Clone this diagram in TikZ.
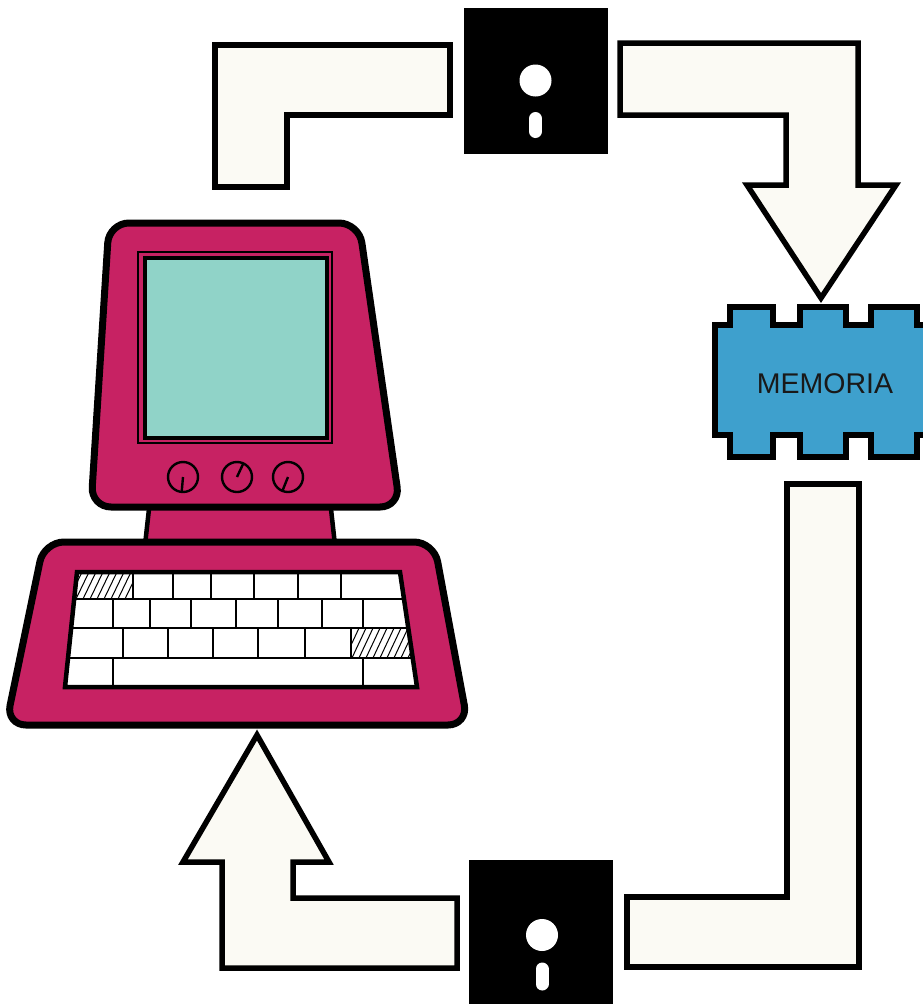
\documentclass[tikz,border=0pt]{standalone}
\usepackage{fontspec}
\setmainfont{Liberation Sans}
\definecolor{casing}{RGB}{199,34,99}
\definecolor{screen}{RGB}{144,211,200}
\definecolor{chip}{RGB}{62,160,205}
\definecolor{paper}{RGB}{251,250,244}
\begin{document}
\begin{tikzpicture}[x=1pt,y=-1pt,
  flowarrow/.style={draw=black,line width=5.5pt,fill=paper,line join=miter},
  floppy/.style={fill=black,inner sep=0pt,minimum width=144pt,minimum height=146pt},
  hole/.style={fill=white},
  body/.style={draw=black,line width=7pt,fill=casing,rounded corners=20pt},
  keyline/.style={draw=black,line width=1.6pt},
  hatch/.style={draw=black,line width=1pt},
  knob/.style={draw=black,line width=2.4pt}]
\useasboundingbox[fill=white] (0,0) rectangle (923,1004);

% ---------- flow arrows ----------
\draw[flowarrow] (215,45) -- (450,45) -- (450,115) -- (287,115) -- (287,187) -- (215,187) -- cycle;
\draw[flowarrow] (620,43) -- (858,43) -- (858,185) -- (896,185) -- (821,298) -- (747,185)
  -- (786,185) -- (786,115) -- (620,115) -- cycle;
\draw[flowarrow] (787,484) -- (859,484) -- (859,967) -- (627,967) -- (627,897) -- (787,897) -- cycle;
\draw[flowarrow] (257,735) -- (329,862) -- (293,862) -- (293,898) -- (457,898) -- (457,968)
  -- (222,968) -- (222,862) -- (183,862) -- cycle;

% ---------- floppy disks ----------
\node[floppy] (disktop) at (535.5,80.5) {};
\fill[hole] (disktop.center) circle[radius=16pt];
\draw[white,line width=13pt,line cap=round] ([yshift=-38pt]disktop.center) -- ([yshift=-51pt]disktop.center);

\node[floppy] (diskbottom) at (540.5,933) {};
\fill[hole] ([xshift=1.5pt,yshift=-2pt]diskbottom.center) circle[radius=16pt];
\draw[white,line width=13pt,line cap=round] ([xshift=1.5pt,yshift=-36pt]diskbottom.center) -- ([xshift=1.5pt,yshift=-51pt]diskbottom.center);

% ---------- memory chip ----------
\draw[draw=black,line width=5.5pt,fill=chip,line join=miter]
  (715,325) -- (730,325) -- (730,307) -- (773,307) -- (773,325) -- (800,325) -- (800,307)
  -- (846,307) -- (846,325) -- (871,325) -- (871,307) -- (917,307) -- (917,325) -- (930,325)
  -- (930,435) -- (917,435) -- (917,457) -- (871,457) -- (871,435) -- (846,435) -- (846,457)
  -- (800,457) -- (800,435) -- (773,435) -- (773,457) -- (730,457) -- (730,435) -- (715,435) -- cycle;
\node[font=\fontsize{28.5}{28.5}\selectfont,text=black!90] (memtext) at (825,384) {MEMORIA};

% ---------- computer ----------
% neck
\fill[casing] (150,495) -- (330,495) -- (335,545) -- (145,545) -- cycle;
\draw[line width=4.5pt] (150,500) -- (145,545) (330,500) -- (335,545);
% monitor
\path[body] (109,223) -- (359,223) -- (400,507) -- (91,507) -- cycle;
\draw[line width=1.2pt] (138,252) rectangle (332,443);
\draw[line width=4.5pt,fill=screen] (145,258) rectangle (327,438);
% knobs
\foreach \kx/\ka in {183/-95,237/65,288/-112}{
  \draw[knob] (\kx,477) circle[radius=15pt];
  \draw[knob] (\kx,477) -- ++(\ka:14pt);
}
% keyboard base
\path[body] (44,542) -- (434,542) -- (468,725) -- (6,725) -- cycle;
% keys
\begin{scope}
  \clip (77,572) -- (400,572) -- (417,687) -- (65,687) -- cycle;
  \fill[white] (50,560) rectangle (430,700);
  \begin{scope}
    \clip (50,572) rectangle (133,599);
    \foreach \h in {40,47,...,150} \draw[hatch] (\h,601) -- (\h+15,570);
  \end{scope}
  \begin{scope}
    \clip (351,628) rectangle (430,658);
    \foreach \h in {330,337,...,440} \draw[hatch] (\h,660) -- (\h+16,626);
  \end{scope}
  \foreach \yy in {599,628,658} \draw[keyline] (50,\yy) -- (430,\yy);
  \foreach \xx in {133,173,211,254,298,341} \draw[keyline] (\xx,572) -- (\xx,599);
  \foreach \xx in {113,150,191,236,278,322,363} \draw[keyline] (\xx,599) -- (\xx,628);
  \foreach \xx in {123,168,213,258,305,351} \draw[keyline] (\xx,628) -- (\xx,658);
  \foreach \xx in {113,363} \draw[keyline] (\xx,658) -- (\xx,687);
\end{scope}
\draw[line width=4.5pt,line join=miter] (77,572) -- (400,572) -- (417,687) -- (65,687) -- cycle;
\end{tikzpicture}
\end{document}
